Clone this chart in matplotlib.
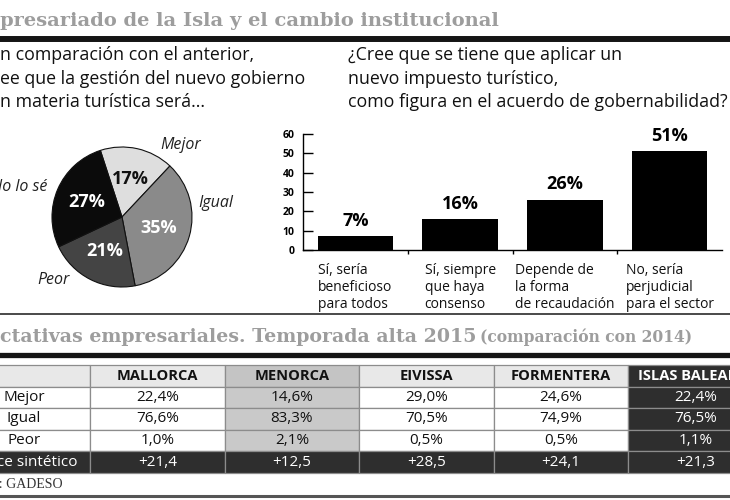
import matplotlib
matplotlib.use("Agg")
import matplotlib.pyplot as plt
import numpy as np

plt.rcParams['font.family'] = ['Open Sans', 'DejaVu Sans']

# --- data ---
pie_labels = ['Mejor', 'Igual', 'Peor', 'No lo sé']
pie_values = [17, 35, 21, 27]
pie_colors = ['#dedede', '#8a8a8a', '#444444', '#0b0b0b']
pie_text_colors = ['#111111', 'white', 'white', 'white']

bar_cats = ['Sí, sería\nbeneficioso\npara todos',
            'Sí, siempre\nque haya\nconsenso',
            'Depende de\nla forma\nde recaudación',
            'No, sería\nperjudicial\npara el sector']
bar_values = [7, 16, 26, 51]

table_cols = ['', 'MALLORCA', 'MENORCA', 'EIVISSA', 'FORMENTERA', 'ISLAS BALEARES']
table_rows = ['Mejor', 'Igual', 'Peor', 'Índice sintético']
mallorca = ['22,4%', '76,6%', '1,0%', '+21,4']
menorca = ['14,6%', '83,3%', '2,1%', '+12,5']
eivissa = ['29,0%', '70,5%', '0,5%', '+28,5']
formentera = ['24,6%', '74,9%', '0,5%', '+24,1']
baleares = ['22,4%', '76,5%', '1,1%', '+21,3']

title1 = 'presariado de la Isla y el cambio institucional'
title2 = 'ctativas empresariales. Temporada alta 2015'
title2b = '(comparación con 2014)'
q_left = 'n comparación con el anterior,\nee que la gestión del nuevo gobierno\nn materia turística será...'
q_right = '¿Cree que se tiene que aplicar un\nnuevo impuesto turístico,\ncomo figura en el acuerdo de gobernabilidad?'
source = 'Fuente: GADESO'

W, H = 730, 500
fig = plt.figure(figsize=(W / 100, H / 100), dpi=100)


def px_axes(x0, y0, x1, y1, **kw):
    # rectangle given in pixels from top-left
    return fig.add_axes([x0 / W, 1 - y1 / H, (x1 - x0) / W, (y1 - y0) / H], **kw)


# overlay for headings and rules
ax0 = px_axes(0, 0, W, H)
ax0.set_xlim(0, W)
ax0.set_ylim(H, 0)
ax0.axis('off')

serif = ['DejaVu Serif']
grey = '#9d9d9d'
ax0.text(0, 26, title1, family=serif, fontweight='bold', fontsize=14,
         color=grey, va='baseline')
ax0.axhline(39, color='#151515', lw=4.3)
ax0.text(0, 46, q_left, fontsize=12.8, va='top', linespacing=1.4, color='#111111')
ax0.text(348, 46, q_right, fontsize=12.8, va='top', linespacing=1.4, color='#111111')

ax0.axhline(314, color='#4a4a4a', lw=1.4)
ax0.text(0, 342, title2, family=serif, fontweight='bold', fontsize=13.7,
         color=grey, va='baseline')
ax0.text(480, 342, title2b, family=serif, fontweight='bold', fontsize=11.2,
         color=grey, va='baseline')
ax0.axhline(355, color='#151515', lw=3.8)
ax0.text(63, 488, source, family=['Liberation Serif', 'DejaVu Serif'], fontsize=10,
         color='#333333', ha='right', va='baseline')
ax0.axhline(496, color='#555555', lw=2.2)

# --- pie ---
axp = px_axes(52, 147, 192, 287)
wedges, texts, autotexts = axp.pie(
    pie_values, colors=pie_colors, startangle=108, counterclock=False,
    autopct='%.0f%%', pctdistance=0.55,
    wedgeprops=dict(edgecolor='#111111', linewidth=0.8),
    textprops=dict(fontsize=13, fontweight='bold'))
for t, c in zip(autotexts, pie_text_colors):
    t.set_color(c)
axp.set_xlim(-1, 1)
axp.set_ylim(-1, 1)
label_pos = [(0.55, 1.03, 'left'), (1.09, 0.2, 'left'),
             (-1.21, -0.9, 'left'), (-1.07, 0.43, 'right')]
for (x, y, ha), lab in zip(label_pos, pie_labels):
    axp.text(x, y, lab, fontsize=11.5, style='italic', ha=ha, va='center',
             color='#222222', clip_on=False)

# --- bars ---
axb = px_axes(303, 134, 722, 250)
xs = np.arange(len(bar_values))
axb.bar(xs, bar_values, width=0.72, color='black')
axb.set_xlim(-0.5, len(bar_values) - 0.5)
axb.set_ylim(0, 60)
axb.set_yticks(range(0, 61, 10))
for lab in axb.get_yticklabels():
    lab.set_fontweight('bold')
axb.tick_params(axis='y', direction='in', length=7, width=1, labelsize=7.5, pad=6)
axb.set_xticks(xs, labels=bar_cats)
axb.set_xticks(xs[:-1] + 0.5, minor=True)
axb.tick_params(axis='x', which='major', length=0, labelsize=10, pad=9)
axb.tick_params(axis='x', which='minor', length=3, width=1, direction='out')
for lab in axb.get_xticklabels():
    lab.set_multialignment('left')
    lab.set_color('#111111')
for s in ['top', 'right']:
    axb.spines[s].set_visible(False)
for s in ['left', 'bottom']:
    axb.spines[s].set_linewidth(1)
for x, v in zip(xs, bar_values):
    axb.annotate(f'{v}%', (x, v), xytext=(0, 11), textcoords='offset points',
                 ha='center', va='center', fontsize=13, fontweight='bold')

# --- table ---
axt = px_axes(-42, 365, 763, 473)
axt.axis('off')
cell_text = [[r, a, b, c, d, e] for r, a, b, c, d, e in
             zip(table_rows, mallorca, menorca, eivissa, formentera, baleares)]
dark = '#2e2e2e'
head_colors = ['#e8e8e8', '#e8e8e8', '#c4c4c4', '#e8e8e8', '#e8e8e8', dark]
body_colors = ['white', 'white', '#c9c9c9', 'white', 'white', dark]
cell_colors = [body_colors] * (len(table_rows) - 1) + [[dark] * len(table_cols)]
widths = np.array([132] + [134.5] * 5)
tab = axt.table(cellText=cell_text, colLabels=table_cols, cellColours=cell_colors,
                colColours=head_colors, colWidths=list(widths / widths.sum()),
                bbox=[0, 0, 1, 1], cellLoc='center')
tab.auto_set_font_size(False)
for (r, c), cell in tab.get_celld().items():
    cell.set_edgecolor('#8c8c8c')
    cell.set_linewidth(0.9)
    txt = cell.get_text()
    txt.set_fontsize(11)
    bg = head_colors[c] if r == 0 else cell_colors[r - 1][c]
    txt.set_color('white' if bg == dark else '#111111')
    if r == 0:
        txt.set_fontweight('bold')
        txt.set_fontsize(10.5)

fig.savefig('out.png', dpi=100)
